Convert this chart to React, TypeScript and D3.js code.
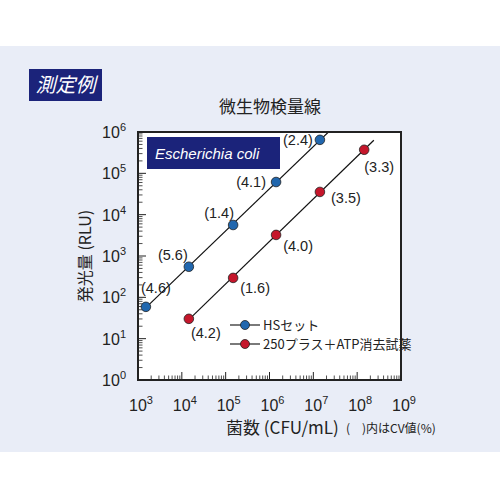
import React from 'react';
import * as d3 from 'd3';

// CFU/mL (log10) and RLU (log10)
const hsCfuLog = [3.18, 4.16, 5.17, 6.15, 7.15];
const hsRluLog = [1.77, 2.74, 3.75, 4.79, 5.81];
const hsCv = ['(4.6)', '(5.6)', '(1.4)', '(4.1)', '(2.4)'];

const plusCfuLog = [4.16, 5.17, 6.15, 7.15, 8.16];
const plusRluLog = [1.48, 2.47, 3.51, 4.55, 5.57];
const plusCv = ['(4.2)', '(1.6)', '(4.0)', '(3.5)', '(3.3)'];

const xExps = [3, 4, 5, 6, 7, 8, 9];
const yExps = [0, 1, 2, 3, 4, 5, 6];

const seriesNames = ['HSセット', '250プラス＋ATP消去試薬'];

// label offsets (px) from each point
const hsLabelOff = [[10, -19], [-16, -12], [-14, -12], [-25, 0], [-22, 0]];
const plusLabelOff = [[17, 14], [22, 10], [22, 11], [26, 6], [15, 17]];

const BLUE = '#2167ae';
const RED = '#c5162b';
const NAVY = '#1b237a';
const FONT = '"Liberation Sans", Arial, "Noto Sans CJK JP", sans-serif';
const JP = '"Noto Sans CJK JP", "Liberation Sans", sans-serif';

const W = 500, H = 500;
const plot = { left: 138, right: 401, top: 132, bottom: 380 };

const x = d3.scaleLog().domain([1e3, 1e9]).range([plot.left, plot.right]);
const y = d3.scaleLog().domain([1e0, 1e6]).range([plot.bottom, plot.top]);

function fit(xs: number[], ys: number[]) {
  const mx = d3.mean(xs)!, my = d3.mean(ys)!;
  const sxy = d3.sum(xs, (v, i) => (v - mx) * (ys[i] - my));
  const sxx = d3.sum(xs, v => (v - mx) ** 2);
  const b = sxy / sxx;
  return (v: number) => my + b * (v - mx);
}

function Series({ xs, ys, labels, offs, color }: { xs: number[]; ys: number[]; labels: string[]; offs: number[][]; color: string }) {
  const f = fit(xs, ys);
  const x0 = xs[0], x1 = xs[xs.length - 1] + 0.22;
  const line = d3.line<number>().x(v => x(10 ** v)).y(v => y(10 ** f(v)));
  return (
    <g>
      <path d={line([x0, x1])!} stroke="#111" strokeWidth={1.2} fill="none" clipPath="url(#plotclip)" />
      {xs.map((v, i) => (
        <g key={i}>
          <circle cx={x(10 ** v)} cy={y(10 ** ys[i])} r={4.8} fill={color} stroke="#222" strokeWidth={0.8} />
          <text x={x(10 ** v) + offs[i][0]} y={y(10 ** ys[i]) + offs[i][1]} dy="0.35em" textAnchor="middle"
            fontSize={14.5} fontFamily={FONT} fill="#222">{labels[i]}</text>
        </g>
      ))}
    </g>
  );
}

function Pow({ px, py, e, anchor }: { px: number; py: number; e: number; anchor: 'end' | 'middle' }) {
  return (
    <text x={px} y={py} textAnchor={anchor} fontFamily={FONT} fill="#222" fontSize={16}>
      10<tspan dy={-7} fontSize={11}>{e}</tspan>
    </text>
  );
}

export default function App() {
  const yMinor: number[] = [];
  yExps.slice(0, -1).forEach(e => { for (let k = 2; k < 10; k++) yMinor.push(k * 10 ** e); });
  const xMinor: number[] = [];
  xExps.slice(0, -1).forEach(e => { for (let k = 2; k < 10; k++) xMinor.push(k * 10 ** e); });

  return (
    <svg width={W} height={H} style={{ position: 'absolute', left: 0, top: 0 }}>
      <defs>
        <clipPath id="plotclip">
          <rect x={plot.left} y={plot.top} width={plot.right - plot.left} height={plot.bottom - plot.top} />
        </clipPath>
      </defs>
      <rect x={0} y={0} width={W} height={H} fill="#fff" />
      <rect x={0} y={46} width={W} height={406} fill="#e9edf7" />

      <rect x={29} y={69} width={73} height={32} fill={NAVY} />
      <text x={65.5} y={92} textAnchor="middle" fill="#fff" fontSize={20} fontStyle="italic" fontFamily={JP}>測定例</text>

      <text x={270} y={113} textAnchor="middle" fontSize={17} fontFamily={JP} fill="#222">微生物検量線</text>

      <rect x={plot.left} y={plot.top} width={plot.right - plot.left} height={plot.bottom - plot.top} fill="#fff" />

      {/* ticks */}
      {yExps.map(e => (
        <line key={'ym' + e} x1={plot.left} x2={plot.left + 8} y1={y(10 ** e)} y2={y(10 ** e)} stroke="#222" strokeWidth={1} />
      ))}
      {yMinor.map((v, i) => (
        <line key={'yn' + i} x1={plot.left} x2={plot.left + 4.5} y1={y(v)} y2={y(v)} stroke="#222" strokeWidth={0.8} />
      ))}
      {xExps.map(e => (
        <line key={'xm' + e} y1={plot.bottom} y2={plot.bottom - 8} x1={x(10 ** e)} x2={x(10 ** e)} stroke="#222" strokeWidth={1} />
      ))}
      {xMinor.map((v, i) => (
        <line key={'xn' + i} y1={plot.bottom} y2={plot.bottom - 4.5} x1={x(v)} x2={x(v)} stroke="#222" strokeWidth={0.8} />
      ))}

      <rect x={147} y={137} width={133} height={32} fill={NAVY} />
      <text x={155} y={158.5} fill="#fff" fontSize={15} fontStyle="italic" fontFamily={FONT}>Escherichia coli</text>

      <Series xs={hsCfuLog} ys={hsRluLog} labels={hsCv} offs={hsLabelOff} color={BLUE} />
      <Series xs={plusCfuLog} ys={plusRluLog} labels={plusCv} offs={plusLabelOff} color={RED} />

      {/* legend */}
      {seriesNames.map((n, i) => {
        const ly = 325 + i * 19;
        return (
          <g key={n}>
            <line x1={230} x2={260} y1={ly} y2={ly} stroke="#222" strokeWidth={1.2} />
            <circle cx={245} cy={ly} r={4.5} fill={i === 0 ? BLUE : RED} stroke="#222" strokeWidth={0.8} />
            <text x={263} y={ly} dy="0.35em" fontSize={13} fontFamily={JP} fill="#222">{n}</text>
          </g>
        );
      })}

      <rect x={plot.left} y={plot.top} width={plot.right - plot.left} height={plot.bottom - plot.top} fill="none" stroke="#222" strokeWidth={2} />

      {yExps.map(e => <Pow key={'yl' + e} px={126} py={y(10 ** e) + 6} e={e} anchor="end" />)}
      {xExps.map(e => <Pow key={'xl' + e} px={x(10 ** e) + 3} py={411} e={e} anchor="middle" />)}

      <text transform="translate(91,256) rotate(-90)" textAnchor="middle" fontSize={16} fontFamily={JP} fill="#222">発光量 (RLU)</text>
      <text x={226} y={434} fontSize={17} fontFamily={JP} fill="#222">菌数 (CFU/mL)</text>
      <text x={346} y={433} fontSize={12} fontFamily={JP} fill="#222">(　)内はCV値(%)</text>
    </svg>
  );
}
